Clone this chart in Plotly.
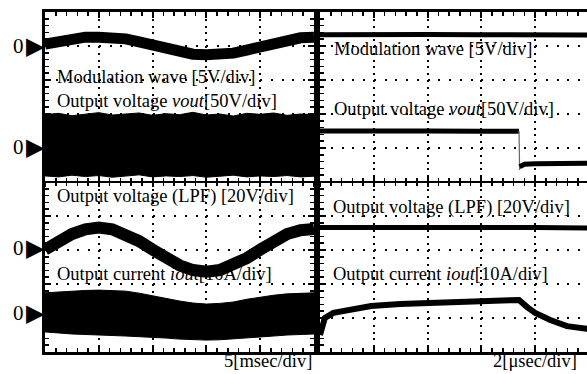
import plotly.graph_objects as go

W, H = 587, 374

# ---------------- data (in scope divisions) ----------------
# left screen: 5 msec/div, right screen: 2 usec/div
t_left = [0.0, 0.25, 0.5, 0.75, 1.0, 1.25, 1.5, 1.75, 2.0, 2.25, 2.5,
          2.75, 3.0, 3.25, 3.5, 3.75, 4.0, 4.25, 4.5, 4.75, 5.0]
left_mod = [9.06, 9.15, 9.22, 9.26, 9.26, 9.25, 9.21, 9.12, 9.01, 8.91, 8.82,
            8.76, 8.74, 8.75, 8.79, 8.88, 8.99, 9.09, 9.18, 9.24, 9.26]
left_vout_top = [6.98, 7.02, 6.95, 7.00, 7.04, 6.97, 6.99, 7.03, 6.96, 7.01, 6.98,
                 7.05, 6.97, 7.00, 6.94, 7.02, 6.99, 7.03, 6.96, 7.00, 6.98]
left_vout_bot = [5.18, 5.15, 5.20, 5.16, 5.19, 5.14, 5.17, 5.21, 5.15, 5.18, 5.16,
                 5.19, 5.14, 5.17, 5.20, 5.15, 5.18, 5.16, 5.19, 5.15, 5.17]
left_lpf = [3.01, 3.26, 3.47, 3.61, 3.66, 3.61, 3.47, 3.26, 3.01, 2.76, 2.55,
            2.41, 2.36, 2.41, 2.55, 2.76, 3.01, 3.26, 3.47, 3.58, 3.62]
left_iout_top = [1.74, 1.77, 1.79, 1.81, 1.82, 1.81, 1.79, 1.73, 1.65, 1.57, 1.50,
                 1.44, 1.41, 1.43, 1.47, 1.55, 1.62, 1.67, 1.71, 1.73, 1.74]
left_iout_bot = [0.59, 0.56, 0.53, 0.51, 0.50, 0.48, 0.47, 0.45, 0.44, 0.41, 0.38,
                 0.36, 0.35, 0.36, 0.38, 0.41, 0.44, 0.47, 0.50, 0.52, 0.53]

t_right_flat = [0.0, 1.0, 2.0, 3.0, 4.0, 5.0]
right_mod = [9.33, 9.35, 9.34, 9.33, 9.34, 9.32]
right_lpf = [3.66, 3.67, 3.65, 3.66, 3.66, 3.65]

t_right_vout_hi = [0.0, 1.0, 2.0, 3.0, 3.70]
right_vout_hi = [6.50, 6.51, 6.50, 6.49, 6.49]
t_right_vout_edge = [3.70, 3.71]
right_vout_edge = [6.49, 5.35]
t_right_vout_lo = [3.71, 3.80, 4.00, 4.50, 5.00]
right_vout_lo = [5.45, 5.52, 5.54, 5.55, 5.55]

t_right_iout = [0.0, 0.04, 0.09, 0.25, 0.56, 0.95, 1.49, 2.01, 3.01, 3.66, 3.70,
                3.85, 4.00, 4.28, 4.59, 4.96, 5.0]
right_iout = [0.50, 0.74, 1.00, 1.15, 1.24, 1.35, 1.41, 1.44, 1.50, 1.53, 1.53,
              1.32, 1.15, 0.94, 0.76, 0.68, 0.67]

zero_levels = [9.0, 6.03, 3.06, 1.15]

labels_left = ["Modulation wave [5V/div]", "Output voltage <i>vout</i>[50V/div]",
               "Output voltage (LPF) [20V/div]", "Output current <i>iout</i>[10A/div]"]
labels_right = labels_left
time_labels = ["5[msec/div]", "2[\u03bcsec/div]"]

# ---------------- layout geometry ----------------
def px_x(p):
    return p / W

def px_y(p):
    return 1 - p / H

FONT = "Liberation Serif, Times New Roman, serif"
xdom_l = [px_x(45), px_x(314)]
xdom_r = [px_x(320), 1.0]
ydom = [px_y(352), px_y(12)]
ycenter = (ydom[0] + ydom[1]) / 2
xr_right = [0, (587 - 320) / 53.8]

fig = go.Figure()

def band(xs, top, bot, xa, ya):
    fig.add_trace(go.Scatter(x=list(xs) + list(xs)[::-1], y=list(top) + list(bot)[::-1],
                             fill="toself", fillcolor="black", mode="lines",
                             line=dict(color="black", width=1),
                             xaxis=xa, yaxis=ya, hoverinfo="skip", showlegend=False))

def line(xs, ys, w, xa, ya, color="black"):
    fig.add_trace(go.Scatter(x=xs, y=ys, mode="lines", line=dict(color=color, width=w),
                             xaxis=xa, yaxis=ya, hoverinfo="skip", showlegend=False))

# left screen
line(t_left, left_mod, 11, "x", "y")
band(t_left, left_vout_top, left_vout_bot, "x", "y")
line(t_left, left_lpf, 12, "x", "y")
band(t_left, left_iout_top, left_iout_bot, "x", "y")

# right screen
line(t_right_flat, right_mod, 5, "x2", "y2")
line(t_right_vout_hi, right_vout_hi, 5, "x2", "y2")
line(t_right_vout_edge, right_vout_edge, 1.2, "x2", "y2", color="#666")
line(t_right_vout_lo, right_vout_lo, 5, "x2", "y2")
line(t_right_flat, right_lpf, 5, "x2", "y2")
line(t_right_iout, right_iout, 6, "x2", "y2")

# dummy traces for centre-line axes
for xa in ["x3", "x4"]:
    fig.add_trace(go.Scatter(x=[None], y=[None], xaxis=xa, yaxis="y", showlegend=False))
for xa in ["x5", "x6"]:
    fig.add_trace(go.Scatter(x=[None], y=[None], xaxis=xa, yaxis="y2", showlegend=False))

def frame_axis(domain, rng, anchor, grid_dash, mirror="ticks"):
    return dict(domain=domain, range=rng, anchor=anchor, showline=True, linewidth=3,
                linecolor="black", mirror=mirror, ticks="inside", ticklen=6, tickwidth=2,
                tickcolor="black", showticklabels=False, showgrid=True, gridcolor="black",
                gridwidth=2, griddash=grid_dash, zeroline=False, tickmode="linear",
                tick0=0, dtick=1, fixedrange=True,
                minor=dict(ticks="inside", ticklen=4, tickwidth=1.5, tickcolor="black",
                           tick0=0, dtick=0.2, showgrid=False))

def center_axis(over, rng, ticks):
    return dict(overlaying=over, anchor="free", position=ycenter, range=rng,
                showline=True, linewidth=2, linecolor="black", ticks=ticks,
                ticklen=4, tickwidth=2, tickcolor="black", showticklabels=False,
                showgrid=False, zeroline=False, tickmode="linear", tick0=0, dtick=1,
                fixedrange=True,
                minor=dict(ticks=ticks, ticklen=3, tickwidth=1.5, tickcolor="black",
                           tick0=0, dtick=0.2, showgrid=False))

annotations = []
left_pos = [(55, 77), (55, 100.5), (55, 196), (55, 274)]
right_pos = [(332, 49.5), (332, 109), (331, 207), (331, 273.5)]
for txt, (xp, yp) in zip(labels_left, left_pos):
    annotations.append(dict(text=txt, x=px_x(xp), y=px_y(yp), xref="paper", yref="paper",
                            xanchor="left", yanchor="middle", showarrow=False,
                            font=dict(family=FONT, size=18.5, color="black")))
for txt, (xp, yp) in zip(labels_right, right_pos):
    annotations.append(dict(text=txt, x=px_x(xp), y=px_y(yp), xref="paper", yref="paper",
                            xanchor="left", yanchor="middle", showarrow=False,
                            font=dict(family=FONT, size=18.5, color="black")))
for txt, xp in zip(time_labels, [314, 579]):
    annotations.append(dict(text=txt, x=px_x(xp), y=px_y(361), xref="paper", yref="paper",
                            xanchor="right", yanchor="middle", showarrow=False,
                            font=dict(family=FONT, size=18.5, color="black")))
# channel zero markers
for z in zero_levels:
    annotations.append(dict(text="0", x=px_x(26), y=z, xref="paper", yref="y",
                            xanchor="right", yanchor="middle", showarrow=False,
                            font=dict(family=FONT, size=21, color="black")))
    annotations.append(dict(text="\u25b6", x=px_x(47), y=z, xref="paper", yref="y",
                            xanchor="right", yanchor="middle", showarrow=False,
                            font=dict(family="DejaVu Sans", size=24, color="black")))

fig.update_layout(
    width=W, height=H, autosize=False,
    margin=dict(l=0, r=0, t=0, b=0, pad=0),
    paper_bgcolor="white", plot_bgcolor="white",
    showlegend=False,
    xaxis=frame_axis(xdom_l, [0, 5], "y", "2px,4.8px"),
    yaxis=frame_axis(ydom, [0, 10], "x", "2px,8.76px"),
    xaxis2=frame_axis(xdom_r, xr_right, "y2", "2px,4.8px"),
    yaxis2=frame_axis(ydom, [0, 10], "x2", "2px,8.76px", mirror=False),
    xaxis3=center_axis("x", [0, 5], "inside"),
    xaxis4=center_axis("x", [0, 5], "outside"),
    xaxis5=center_axis("x2", xr_right, "inside"),
    xaxis6=center_axis("x2", xr_right, "outside"),
    annotations=annotations,
)

fig.write_html("out.html", config={"displayModeBar": False, "staticPlot": True},
               post_script="document.body.style.margin='0';document.body.style.padding='0';")
